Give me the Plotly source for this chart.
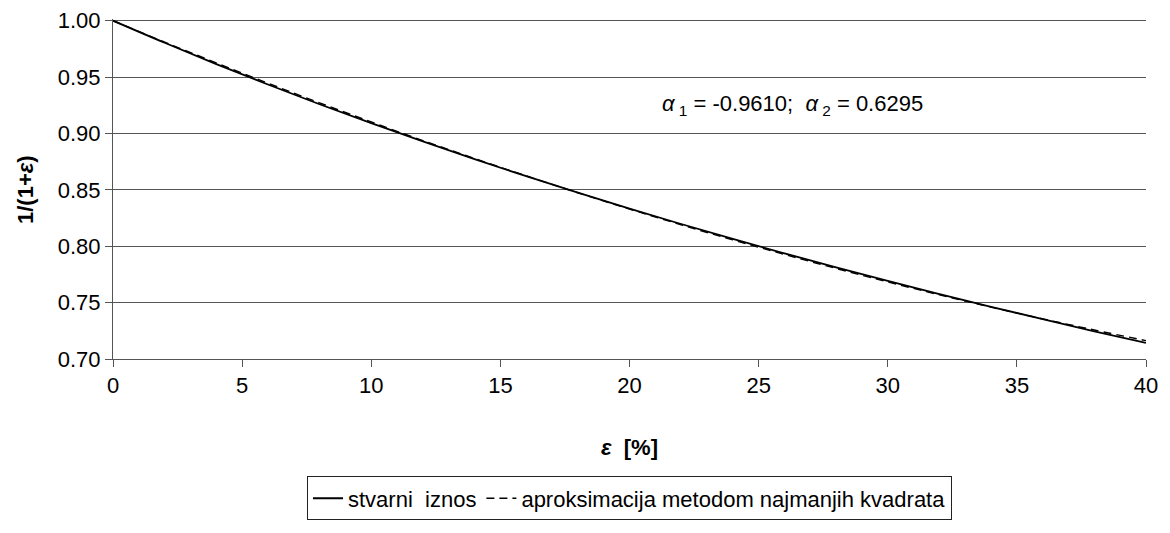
import plotly.graph_objects as go

eps = [0, 2, 4, 6, 8, 10, 12, 14, 16, 18, 20, 22, 24, 26, 28, 30, 32, 34, 36, 38, 40]
actual = [1.0000, 0.9804, 0.9615, 0.9434, 0.9259, 0.9091, 0.8929, 0.8772, 0.8621, 0.8475,
          0.8333, 0.8197, 0.8065, 0.7937, 0.7813, 0.7692, 0.7576, 0.7463, 0.7353, 0.7246, 0.7143]
approx = [1.0000, 0.9810, 0.9626, 0.9446, 0.9271, 0.9102, 0.8937, 0.8778, 0.8624, 0.8474,
          0.8330, 0.8190, 0.8056, 0.7927, 0.7803, 0.7684, 0.7569, 0.7460, 0.7356, 0.7257, 0.7163]
y_ticks = [0.70, 0.75, 0.80, 0.85, 0.90, 0.95, 1.00]
x_ticks = [0, 5, 10, 15, 20, 25, 30, 35, 40]

FONT = "Liberation Sans, Arial, sans-serif"
FS = 22

fig = go.Figure()
fig.add_trace(go.Scatter(x=eps, y=actual, mode="lines", name="stvarni\u00a0 iznos",
                         line=dict(color="black", width=1.8, shape="spline")))
fig.add_trace(go.Scatter(x=eps, y=approx, mode="lines", name="aproksimacija metodom najmanjih kvadrata",
                         line=dict(color="black", width=1.4, dash="8px,5px", shape="spline")))

fig.add_annotation(x=26.3, y=0.9256, xref="x", yref="y",
                   text="<i>α</i><sub> 1</sub> = -0.9610;\u00a0 <i>α</i><sub> 2</sub> = 0.6295",
                   showarrow=False, font=dict(family=FONT, size=FS, color="black"))

# axis titles
fig.add_annotation(x=0.5, y=-0.261, xref="paper", yref="paper",
                   text="<b><i>ε</i>\u00a0 [%]</b>", showarrow=False,
                   xanchor="center", yanchor="middle",
                   font=dict(family=FONT, size=FS, color="black"))
fig.add_annotation(x=-0.0852, y=0.5, xref="paper", yref="paper",
                   text="<b>1/(1+<i>ε</i>)</b>", showarrow=False, textangle=-90,
                   xanchor="center", yanchor="middle",
                   font=dict(family=FONT, size=FS, color="black"))

fig.update_layout(
    width=1170, height=533,
    margin=dict(l=113, r=24, t=19, b=157),
    paper_bgcolor="white", plot_bgcolor="white",
    font=dict(family=FONT, size=FS, color="black"),
    showlegend=True,
    legend=dict(orientation="h", x=0.5, xanchor="center", y=-0.3455, yanchor="top",
                bordercolor="#222", borderwidth=1, font=dict(family=FONT, size=FS),
                tracegroupgap=0),
    xaxis=dict(range=[0, 40], tickvals=x_ticks, showgrid=False, zeroline=False,
               showline=True, linecolor="#555", linewidth=1, automargin=False,
               ticks="outside", ticklen=7, tickcolor="#555", ticklabeloverflow="allow"),
    yaxis=dict(range=[0.70, 1.0015], tickvals=y_ticks, tickformat=".2f",
               showgrid=True, gridcolor="#555", gridwidth=1, zeroline=False,
               showline=True, linecolor="#555", linewidth=1, automargin=False,
               ticks="outside", ticklen=7, tickcolor="#555", ticklabeloverflow="allow"),
)

fig.write_html("out.html", post_script="document.body.style.margin='0';",
               config={"displayModeBar": False})
